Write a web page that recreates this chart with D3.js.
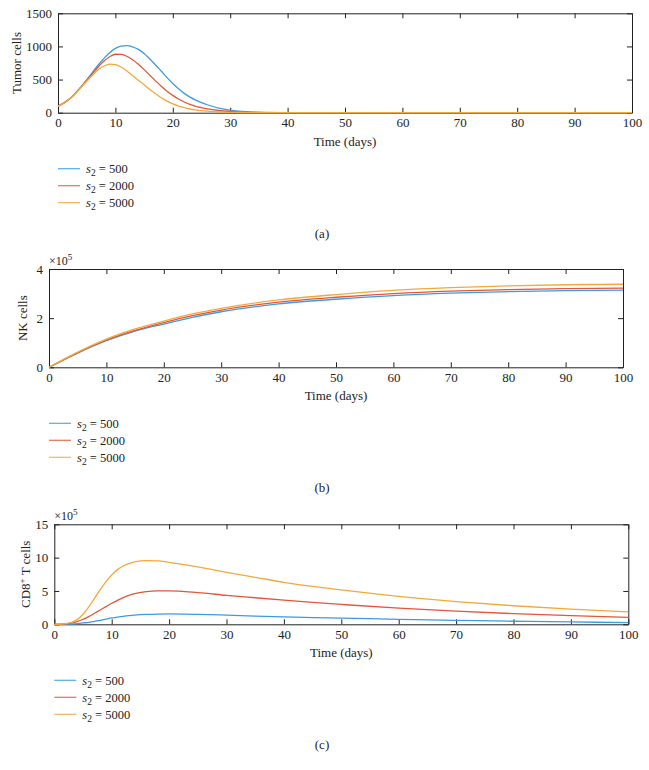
<!DOCTYPE html>
<html><head><meta charset="utf-8">
<script src="https://cdn.jsdelivr.net/npm/d3@7"></script>
<style>
html,body{margin:0;padding:0;background:#fff;}
svg{display:block;}
text{font-family:"Liberation Serif","Times New Roman",serif;fill:#222;}
</style></head>
<body><svg id="chart" width="649" height="770"></svg>
<script>
// ---------- data ----------
const seriesNames = ["500", "2000", "5000"];
const seriesColors = ["#3d9be0", "#e2563a", "#f2a93b"];

const tumorDays = [0,1,2,3,4,5,6,7,8,9,10,11,12,13,14,15,16,17,18,19,20,21,22,23,24,25,26,28,30,32,34,36,40,50,60,70,80,90,100];
const tumor500  = [100,145,205,290,390,495,610,720,820,905,970,1005,1012,995,955,895,810,720,625,530,440,360,292,235,190,152,120,70,38,19,9,4,1,0,0,0,0,0,0];
const tumor2000 = [100,145,205,290,385,490,590,690,780,845,882,880,852,800,730,650,565,480,400,325,262,207,162,126,97,76,58,33,18,9,4,2,0,0,0,0,0,0,0];
const tumor5000 = [100,145,205,285,380,475,565,650,705,732,725,690,630,560,490,420,350,285,225,175,133,100,75,56,42,31,23,12,6,3,1,0,0,0,0,0,0,0,0];

const nkDays = [0,5,10,15,20,25,30,40,50,60,70,80,90,100];
const nk500  = [0,0.58,1.08,1.47,1.76,2.03,2.26,2.58,2.77,2.92,3.02,3.08,3.12,3.14];
const nk2000 = [0,0.60,1.11,1.50,1.82,2.10,2.33,2.65,2.85,3.00,3.10,3.16,3.20,3.22];
const nk5000 = [0,0.62,1.15,1.56,1.88,2.17,2.40,2.74,2.96,3.13,3.24,3.31,3.36,3.38];

const cdDays = [0,2,4,5,6,7,8,9,10,11,12,13,14,16,18,20,25,30,35,40,45,50,60,70,80,90,100];
const cd500  = [0,0.01,0.1,0.2,0.3,0.45,0.6,0.78,0.95,1.08,1.2,1.3,1.38,1.48,1.53,1.55,1.5,1.37,1.23,1.1,1.0,0.92,0.75,0.6,0.46,0.35,0.25];
const cd2000 = [0,0.05,0.4,0.75,1.15,1.65,2.15,2.65,3.15,3.6,4.0,4.33,4.6,4.9,5.0,5.0,4.75,4.35,3.98,3.62,3.28,2.98,2.42,1.97,1.6,1.3,1.05];
const cd5000 = [0,0.1,0.7,1.5,2.6,3.9,5.2,6.4,7.4,8.2,8.75,9.1,9.35,9.55,9.5,9.3,8.6,7.8,7.05,6.3,5.68,5.15,4.18,3.41,2.78,2.27,1.85];

const xTicks = [0,10,20,30,40,50,60,70,80,90,100];
const tumorTicks = [0,500,1000,1500];
const nkTicks = [0,2,4];
const cdTicks = [0,5,10,15];

// ---------- drawing ----------
const svg = d3.select("#chart");
const fmt = d3.format("d");

function panel(cfg) {
  const g = svg.append("g");
  const x = d3.scaleLinear().domain([0,100]).range([cfg.x0, cfg.x1]);
  const y = d3.scaleLinear().domain(cfg.yDomain).range([cfg.yBot, cfg.yTop]);
  const tick = 5;

  const ax = (gen, tx, ty, labels) => {
    const a = g.append("g").attr("transform", `translate(${tx},${ty})`).call(gen);
    a.select(".domain").attr("stroke", "#222").attr("stroke-width", 1);
    a.selectAll(".tick line").attr("stroke", "#222");
    a.selectAll("text").style("font-size", "13px").attr("fill", "#222");
    if (!labels) a.selectAll("text").remove();
    return a;
  };
  ax(d3.axisBottom(x).tickValues(xTicks).tickFormat(fmt).tickSize(-tick).tickSizeOuter(0).tickPadding(5), 0, cfg.yBot, true);
  ax(d3.axisTop(x).tickValues(xTicks).tickSize(-tick).tickSizeOuter(0), 0, cfg.yTop, false);
  ax(d3.axisLeft(y).tickValues(cfg.yTicks).tickFormat(fmt).tickSize(-tick).tickSizeOuter(0).tickPadding(6), cfg.x0, 0, true);
  ax(d3.axisRight(y).tickValues(cfg.yTicks).tickSize(-tick).tickSizeOuter(0), cfg.x1, 0, false);

  const line = d3.line().x(d => x(d[0])).y(d => y(d[1])).curve(d3.curveMonotoneX);
  cfg.series.forEach((s, i) => {
    g.append("path")
      .datum(cfg.days.map((t, k) => [t, s[k]]))
      .attr("fill", "none").attr("stroke", seriesColors[i]).attr("stroke-width", 1.3)
      .attr("d", line);
  });

  // x label
  g.append("text").attr("x", (cfg.x0 + cfg.x1) / 2).attr("y", cfg.yBot + 33)
    .attr("text-anchor", "middle").style("font-size", "13px").text("Time (days)");

  // y label
  const yl = g.append("text")
    .attr("transform", `translate(${cfg.yLabX},${(cfg.yTop + cfg.yBot) / 2}) rotate(-90)`)
    .attr("text-anchor", "middle").style("font-size", "13px");
  cfg.yLabel(yl);

  // exponent
  if (cfg.exp) {
    const e = g.append("text").attr("x", cfg.x0).attr("y", cfg.yTop - 4).style("font-size", "12px");
    e.append("tspan").text("×10");
    e.append("tspan").attr("dy", -5).style("font-size", "9px").text("5");
  }

  // legend
  seriesNames.forEach((n, i) => {
    const ly = cfg.yBot + 56 + i * 17;
    g.append("line").attr("x1", cfg.x0).attr("x2", cfg.x0 + 22).attr("y1", ly).attr("y2", ly)
      .attr("stroke", seriesColors[i]).attr("stroke-width", 1.2).attr("opacity", 0.85);
    const t = g.append("text").attr("x", cfg.x0 + 28).attr("y", ly + 4.5).style("font-size", "12.5px");
    t.append("tspan").style("font-style", "italic").text("s");
    t.append("tspan").attr("dy", 3).style("font-size", "9.5px").text("2");
    t.append("tspan").attr("dy", -3).text(" = " + n);
  });

  // panel label
  g.append("text").attr("x", 322).attr("y", cfg.yBot + 125).attr("text-anchor", "middle")
    .style("font-size", "13px").text(cfg.tag);
}

panel({
  x0: 58, x1: 632, yTop: 13.3, yBot: 112.7, yDomain: [0,1500], yTicks: tumorTicks,
  days: tumorDays, series: [tumor500, tumor2000, tumor5000], tag: "(a)", yLabX: 21,
  yLabel: t => t.text("Tumor cells"), exp: false
});
panel({
  x0: 49, x1: 623, yTop: 269, yBot: 367.3, yDomain: [0,4], yTicks: nkTicks,
  days: nkDays, series: [nk500, nk2000, nk5000], tag: "(b)", yLabX: 27,
  yLabel: t => t.text("NK cells"), exp: true
});
panel({
  x0: 54.3, x1: 628.3, yTop: 524.3, yBot: 624.3, yDomain: [0,15], yTicks: cdTicks,
  days: cdDays, series: [cd500, cd2000, cd5000], tag: "(c)", yLabX: 29.5,
  yLabel: t => {
    t.append("tspan").text("CD8");
    t.append("tspan").attr("dy", -5).style("font-size", "9px").text("+");
    t.append("tspan").attr("dy", 5).text(" T cells");
  }, exp: true
});
</script>
</body></html>
